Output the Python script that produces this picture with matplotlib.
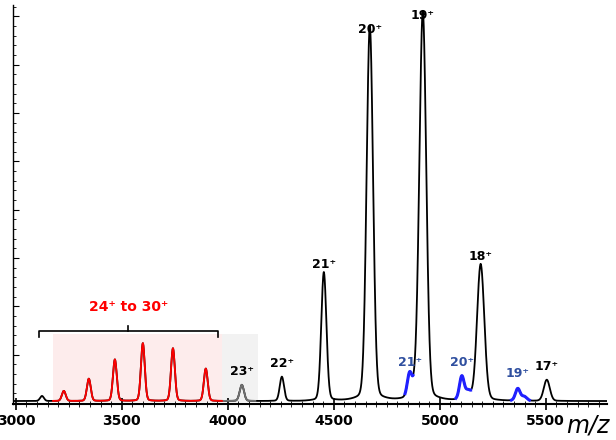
import numpy as np
import matplotlib.pyplot as plt
from matplotlib.ticker import MultipleLocator

# peak list: m/z, height (arbitrary units), width
main_mz = [3123, 3226, 3344, 3467, 3599, 3741, 3896, 4066, 4255, 4453, 4670, 4920, 5193, 5505]
main_h = [5, 10, 22, 41, 57, 52, 32, 16, 24, 127, 370, 384, 135, 21]
main_w = [9, 9, 9, 9, 9, 9, 9, 10, 10, 12, 15, 16, 17, 14]
main_labels = ["", "", "", "", "", "", "", "23⁺", "22⁺", "21⁺", "20⁺", "19⁺", "18⁺", "17⁺"]

blue_mz = [4858, 5104, 5368]
blue_h = [23, 23, 12]
blue_labels = ["21⁺", "20⁺", "19⁺"]

x = np.linspace(2986, 5788, 6000)


def peak(c, h, w):
    return h * np.exp(-0.5 * ((x - c) / w) ** 2) + h * 0.05 * np.exp(-np.abs(x - c) / (3 * w))


main = np.full_like(x, 2.0)
for c, h, w in zip(main_mz, main_h, main_w):
    main += peak(c, h, w)
blue = np.zeros_like(x)
for c, h in zip(blue_mz, blue_h):
    blue += peak(c, h, 11) + peak(c + 30, h * 0.35, 12)
y = main + blue

fig = plt.figure(figsize=(6.16, 4.40), dpi=100)
ax = fig.add_axes([0.021, 0.082, 0.964, 0.907])

ax.axvspan(3175, 3972, ymin=0.005, ymax=0.175, color="#fdecec", lw=0)
ax.axvspan(3972, 4142, ymin=0.005, ymax=0.175, color="#f2f2f2", lw=0)

ax.plot(x, y, color="black", lw=1.3)
red = (x > 3175) & (x < 3980)
ax.plot(np.where(red, x, np.nan), y, color="#ff0000", lw=1.3)
grey = (x >= 3980) & (x < 4130)
ax.plot(np.where(grey, x, np.nan), y, color="#707070", lw=1.3)
for c in blue_mz:
    seg = (x > c - 30) & (x < c + 55) & (blue > main - 2)
    ax.plot(np.where(seg, x, np.nan), y, color="#2020ff", lw=2.2)

for c, h, lab in zip(main_mz, main_h, main_labels):
    if lab:
        ax.text(c, h + 10, lab, ha="center", va="bottom", fontsize=9, fontweight="bold")
for c, h, lab in zip(blue_mz, blue_h, blue_labels):
    ax.text(c, h + 12, lab, ha="center", va="bottom", fontsize=9,
            fontweight="bold", color="#2f4f9f")

# bracket for 24+ to 30+
ax.plot([3108, 3108, 3953, 3953], [68, 74, 74, 68], color="black", lw=1.2)
ax.plot([3530, 3530], [74, 80], color="black", lw=1.2)
ax.text(3530, 92, "24⁺ to 30⁺", ha="center", va="bottom", fontsize=10,
        fontweight="bold", color="#ff0000")

ax.set_xlim(2986, 5788)
ax.set_ylim(-1, 412)
ax.xaxis.set_major_locator(MultipleLocator(500))
ax.xaxis.set_minor_locator(MultipleLocator(50))
ax.yaxis.set_major_locator(MultipleLocator(50))
ax.yaxis.set_minor_locator(MultipleLocator(10))
ax.set_yticklabels([])
ax.tick_params(axis="x", which="major", direction="inout", length=8, width=1.2, labelsize=10)
ax.tick_params(axis="x", which="minor", direction="inout", length=5)
ax.tick_params(axis="y", which="major", direction="in", length=4)
ax.tick_params(axis="y", which="minor", direction="in", length=2)
for lab in ax.get_xticklabels():
    lab.set_fontweight("bold")
for side in ["top", "right"]:
    ax.spines[side].set_visible(False)
ax.spines["bottom"].set_linewidth(1.5)
ax.spines["left"].set_linewidth(1.0)

fig.text(0.955, 0.005, "m/z", fontsize=17, style="italic", ha="center", va="bottom")

fig.savefig("out.png", dpi=100)
